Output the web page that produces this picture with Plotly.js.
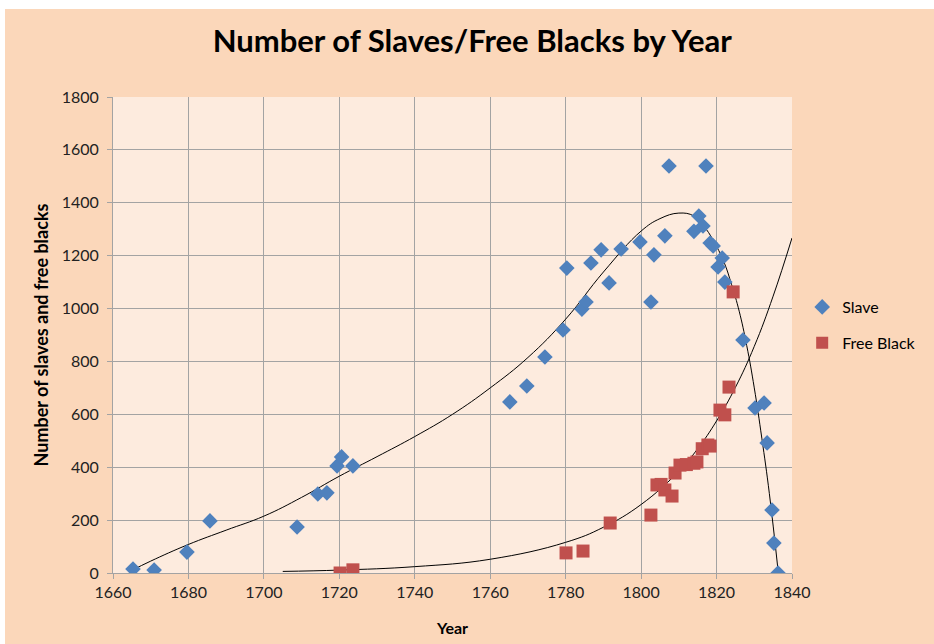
<!DOCTYPE html>
<html>
<head>
<meta charset="utf-8">
<script src="https://cdn.plot.ly/plotly-3.0.1.min.js"></script>
<style>
html,body{margin:0;padding:0;background:#ffffff;width:934px;height:644px;overflow:hidden;}
#chart{position:absolute;left:5px;top:9px;width:929px;height:635px;}
</style>
</head>
<body>
<div id="chart"></div>
<script>
// Slave observations
const slaveYears = [1665.3,1670.9,1679.6,1685.7,1708.8,1714.3,1716.7,1719.4,1720.6,1723.6,
  1765.2,1769.7,1774.5,1779.3,1780.3,1784.3,1785.4,1786.7,1789.4,1791.5,1794.7,1799.7,
  1802.6,1803.4,1806.3,1807.4,1814.0,1815.3,1816.4,1817.2,1818.3,1819.1,1820.4,1821.5,1822.2,
  1827.0,1830.2,1832.6,1833.4,1834.7,1835.2,1836.3];
const slaveValues = [15,11,79,197,174,299,303,405,439,405,
  647,707,817,919,1153,998,1025,1172,1222,1097,1225,1252,
  1025,1203,1275,1539,1292,1350,1312,1539,1248,1237,1157,1191,1100,
  881,624,643,492,238,113,0];

// Free Black observations
const freeYears = [1720.2,1723.6,1780.1,1784.6,1791.8,1802.6,1804.2,1805.3,1806.3,1808.2,
  1809.0,1810.3,1812.0,1814.0,1814.8,1816.2,1817.7,1818.3,1820.9,1822.2,1823.3,1824.4];
const freeValues = [0,12,76,83,189,219,333,335,314,291,
  378,408,410,415,420,470,484,480,616,598,703,1063];

// Trend curves
const slaveTrendYears = [1665,1670,1680,1690,1700,1710,1720,1730,1740,1750,1760,1770,1780,1790,
  1800,1805,1810,1814,1817,1820,1822,1824,1826,1828,1830,1832,1834,1836.3];
const slaveTrendValues = [10,45,108,162,215,286,366,440,516,600,700,815,960,1138,
  1293,1340,1361,1350,1305,1235,1175,1090,990,860,700,510,300,10];

const freeTrendYears = [1705,1720,1740,1760,1780,1790,1800,1810,1815,1820,1825,1830,1835,1840];
const freeTrendValues = [6,11,24,52,116,173,259,385,470,575,702,857,1047,1267];

const FONT = 'Lato, sans-serif';

const data = [
  {x: slaveTrendYears, y: slaveTrendValues, mode:'lines', line:{color:'#000000', width:1, shape:'spline', smoothing:1.2},
   showlegend:false, hoverinfo:'skip'},
  {x: freeTrendYears, y: freeTrendValues, mode:'lines', line:{color:'#000000', width:1, shape:'spline', smoothing:1.2},
   showlegend:false, hoverinfo:'skip'},
  {x: slaveYears, y: slaveValues, mode:'markers', name:'Slave', legendgroup:'a',
   marker:{symbol:'diamond', size:12, color:'#4F81BD'}},
  {x: freeYears, y: freeValues, mode:'markers', name:'Free Black', legendgroup:'b',
   marker:{symbol:'square', size:13, color:'#C0504D'}}
];

const layout = {
  width: 929, height: 635,
  paper_bgcolor:'#FBD7BA',
  plot_bgcolor:'#FDEBDE',
  margin:{l:108, r:142, t:88, b:71},
  title:{text:'Number of Slaves/Free Blacks by Year', x:0.503, xanchor:'center', y:0.95, yanchor:'middle',
    font:{family:FONT, size:31, color:'#000000', weight:'bold'}},
  xaxis:{range:[1660,1840], dtick:20, tick0:1660, showgrid:true, gridcolor:'#A3A3A3', gridwidth:1,
    showline:true, linecolor:'#A3A3A3', linewidth:1, ticks:'outside', ticklen:5, tickcolor:'#A3A3A3',
    zeroline:false, tickfont:{family:FONT, size:16, color:'#222222'},
    title:{text:'<b>Year</b>', standoff:22, font:{family:FONT, size:16, color:'#000000'}}},
  yaxis:{range:[0,1800], dtick:200, tick0:0, showgrid:true, gridcolor:'#A3A3A3', gridwidth:1,
    showline:true, linecolor:'#A3A3A3', linewidth:1, ticks:'outside', ticklen:5, tickcolor:'#A3A3A3',
    ticklabelstandoff:5,
    zeroline:false, tickfont:{family:FONT, size:16, color:'#222222'},
    title:{text:'<b>Number of slaves and free blacks</b>', standoff:8, font:{family:FONT, size:18, color:'#000000'}}},
  legend:{x:1.015, xanchor:'left', y:0.521, yanchor:'middle', bgcolor:'rgba(0,0,0,0)',
    font:{family:FONT, size:16, color:'#000000'}, tracegroupgap:12, itemsizing:'constant'},
  showlegend:true
};

Plotly.newPlot('chart', data, layout, {displayModeBar:false, staticPlot:true});
</script>
</body>
</html>
